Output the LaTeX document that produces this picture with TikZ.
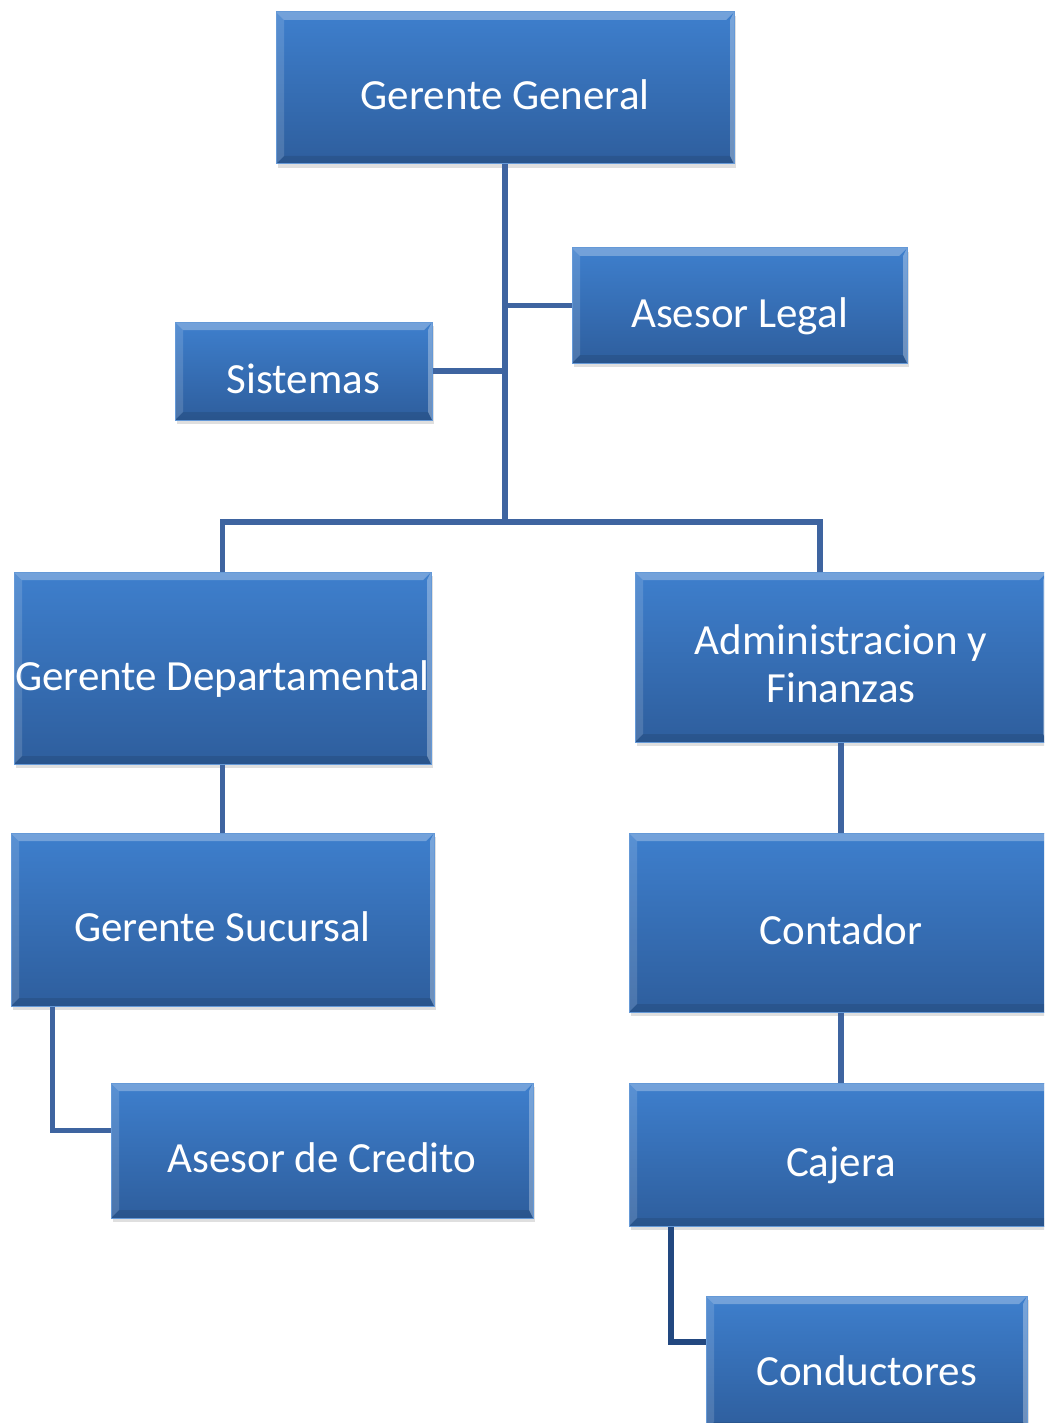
\documentclass[tikz,border=0pt]{standalone}
\usepackage{fontspec}
\setmainfont{Carlito}
\usepackage{tikz}
\usetikzlibrary{shadows}
\definecolor{boxtop}{RGB}{62,127,205}
\definecolor{boxbot}{RGB}{46,94,157}
\definecolor{linkc}{RGB}{62,100,160}
\definecolor{linkd}{RGB}{34,72,128}
\def\bevel{%
  \fill[white,opacity=.28] (path picture bounding box.north west) -- (path picture bounding box.north east)
    -- ([shift={(-4pt,-4pt)}]path picture bounding box.north east) -- ([shift={(4pt,-4pt)}]path picture bounding box.north west) -- cycle;
  \fill[white,opacity=.14] (path picture bounding box.north west) -- ([shift={(4pt,-4pt)}]path picture bounding box.north west)
    -- ([shift={(4pt,4pt)}]path picture bounding box.south west) -- (path picture bounding box.south west) -- cycle;
  \fill[white,opacity=.3] (path picture bounding box.north east) -- ([shift={(-2pt,-4pt)}]path picture bounding box.north east)
    -- ([shift={(-2pt,4pt)}]path picture bounding box.south east) -- (path picture bounding box.south east) -- cycle;
  \fill[black,opacity=.1] (path picture bounding box.south west) -- ([shift={(4pt,4pt)}]path picture bounding box.south west)
    -- ([shift={(-2pt,4pt)}]path picture bounding box.south east) -- (path picture bounding box.south east) -- cycle;}

\begin{document}
\begin{tikzpicture}[x=0.5pt,y=-0.5pt,
  orgbox/.style={rectangle,inner sep=0pt,top color=boxtop,bottom color=boxbot,draw=boxtop!80!white,line width=0.5pt,
    text=white,align=center,font=\fontsize{21.5pt}{24pt}\selectfont,text height=22pt,text depth=0pt,
    drop shadow={shadow xshift=1pt,shadow yshift=-2pt,opacity=.35,fill=gray!70},path picture={\bevel}},
  link/.style={draw=linkc,line width=2.7pt},
  linkdark/.style={draw=linkd,line width=2.7pt}]
\useasboundingbox (0,0) rectangle (1044,1423);
\clip (0,0) rectangle (1044,1423);
\fill[white] (0,0) rectangle (1044,1423);

\node[orgbox,minimum width=229pt,minimum height=76pt] (gg) at (505,88) {Gerente General};
\node[orgbox,minimum width=167.5pt,minimum height=57.5pt] (legal) at (739.5,305.5) {Asesor Legal};
\node[orgbox,minimum width=128.5pt,minimum height=49pt] (sis) at (303.5,371) {Sistemas};
\node[orgbox,minimum width=208.5pt,minimum height=96pt] (gdep) at (222.5,668) {Gerente Departamental};
\node[orgbox,minimum width=206pt,minimum height=85pt,text height=,text depth=] (adm) at (841,657)
  {\raisebox{-6pt}[\height][\depth]{\begin{tabular}{@{}c@{}}Administracion y\\Finanzas\end{tabular}}};
\node[orgbox,minimum width=211.5pt,minimum height=86.5pt] (gsuc) at (222.5,919.5) {Gerente Sucursal};
\node[orgbox,minimum width=212pt,minimum height=89.5pt] (cont) at (841,922.5) {Contador};
\node[orgbox,minimum width=211pt,minimum height=67.5pt] (cred) at (322,1150.5) {Asesor de Credito};
\node[orgbox,minimum width=212pt,minimum height=71.5pt] (caj) at (841,1154.5) {Cajera};
\node[orgbox,minimum width=160.5pt,minimum height=67pt] (cond) at (866.5,1363) {Conductores};

\coordinate (bus) at (504,522);
\coordinate (admtop) at (820,572);
% main trunk and side branches
\draw[link] (gg.south) -- (gg.south |- bus);
\draw[link] (legal.west) -- (legal.west -| gg.south);
\draw[link] (sis.east) -- (sis.east -| gg.south);
\draw[link] (gdep.north) |- (admtop |- bus) -- (admtop);
% left column
\draw[link] (gdep.south) -- (gsuc.north -| gdep.south);
\draw[link] ([xshift=-85pt]gsuc.south) |- ([yshift=10pt]cred.west);
% right column
\draw[link] (adm.south) -- (cont.north);
\draw[link] (cont.south) -- (caj.north);
\draw[linkdark] ([xshift=-85pt]caj.south) |- ([yshift=10.5pt]cond.west);
\end{tikzpicture}
\end{document}
